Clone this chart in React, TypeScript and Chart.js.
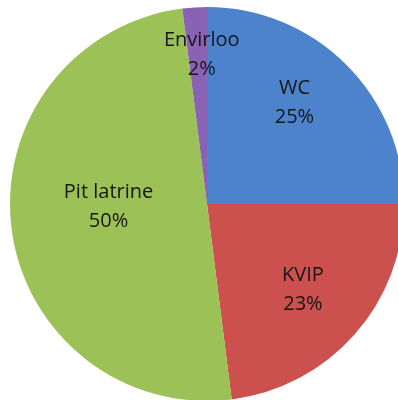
import React, { useEffect, useRef } from "react";
import { Chart, registerables } from "chart.js";

Chart.register(...registerables);

const categories = ["WC", "KVIP", "Pit latrine", "Envirloo"];
const shares = [25, 23, 50, 2];
const percentLabels = ["25%", "23%", "50%", "2%"];
const sliceColors = ["#4C83CC", "#CC504D", "#9CC157", "#8A62B4"];
// label placement (fraction of radius, angle shift in degrees from slice middle)
const labelRadius = [0.678, 0.654, 0.5, 0.757];
const labelAngleShift = [-4.1, 0.5, 5.5, 1.6];

const labelPlugin = {
  id: "sliceLabels",
  afterDatasetsDraw(chart: any) {
    const ctx = chart.ctx;
    const meta = chart.getDatasetMeta(0);
    ctx.save();
    ctx.font = "20px 'Open Sans'";
    ctx.fillStyle = "#161616";
    ctx.textAlign = "center";
    ctx.textBaseline = "middle";
    meta.data.forEach((arc: any, i: number) => {
      const p = arc.getProps(["x", "y", "startAngle", "endAngle", "outerRadius"], true);
      const a = (p.startAngle + p.endAngle) / 2 + (labelAngleShift[i] * Math.PI) / 180;
      const r = p.outerRadius * labelRadius[i];
      const cx = p.x + Math.cos(a) * r;
      const cy = p.y + Math.sin(a) * r;
      ctx.fillText(categories[i], cx, cy - 14.75);
      ctx.fillText(percentLabels[i], cx, cy + 14.75);
    });
    ctx.restore();
  },
};

export default function App() {
  const ref = useRef<HTMLCanvasElement>(null);
  useEffect(() => {
    if (!ref.current) return;
    const chart = new Chart(ref.current, {
      type: "pie",
      data: {
        labels: categories,
        datasets: [
          {
            data: shares,
            backgroundColor: sliceColors,
            borderWidth: 0,
          },
        ],
      },
      options: {
        responsive: false,
        animation: false,
        layout: { padding: 0 },
        plugins: {
          legend: { display: false },
          tooltip: { enabled: false },
        },
      },
      plugins: [labelPlugin],
    });
    return () => chart.destroy();
  }, []);
  return (
    <div
      style={{
        position: "fixed",
        left: 0,
        top: 0,
        width: 398,
        height: 400,
        overflow: "hidden",
        background: "#fff",
      }}
    >
      <canvas
        ref={ref}
        width={394}
        height={394}
        style={{ position: "absolute", left: 10, top: 7, width: 394, height: 394 }}
      />
    </div>
  );
}
